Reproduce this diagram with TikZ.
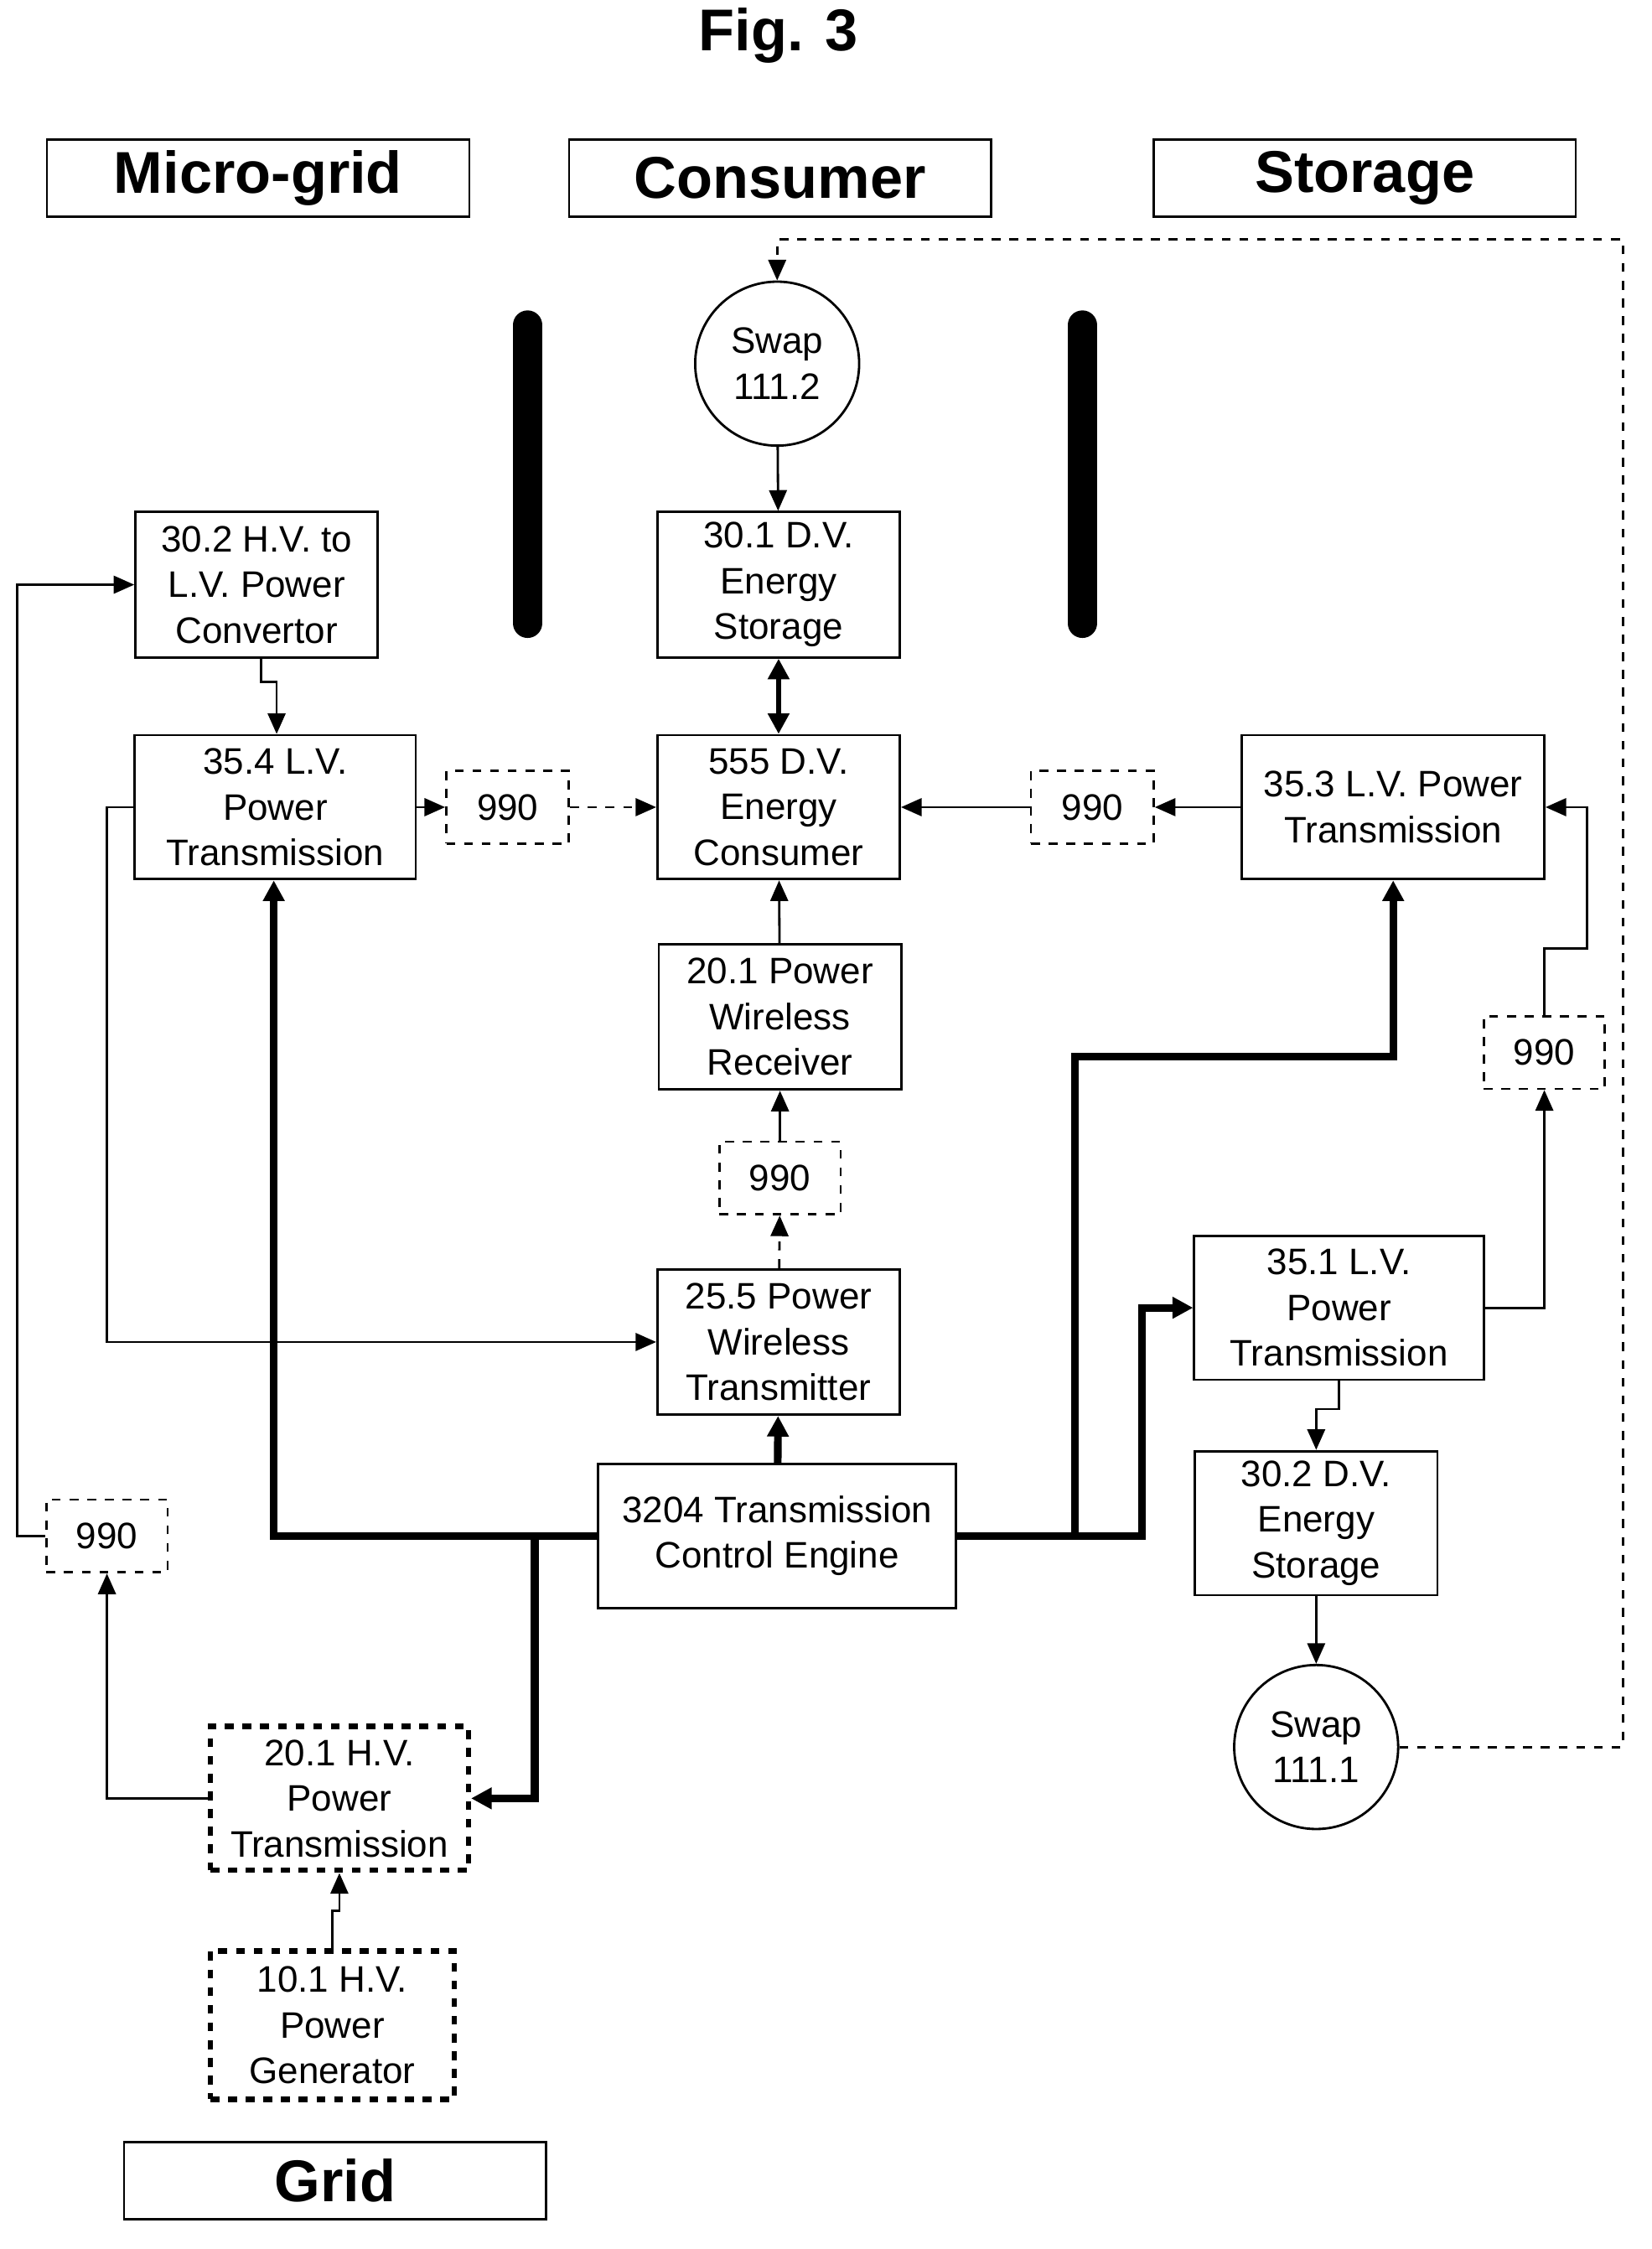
\documentclass[tikz,border=0pt]{standalone}
\usepackage{fontspec}
\setmainfont{Liberation Sans}
\usetikzlibrary{arrows.meta}
\begin{document}
\begin{tikzpicture}[x=0.017cm, y=-0.017cm,
    box/.style={draw, line width=0.8pt, align=center, inner sep=0pt, font=\fontsize{12.5}{15.5}\selectfont},
    tag/.style={box, dashed},
    hdr/.style={draw, line width=0.7pt, minimum width=296*0.017cm, minimum height=54*0.017cm, font=\fontsize{20}{24}\selectfont\bfseries},
    swap/.style={draw, circle, line width=0.8pt, minimum size=115*0.017cm, align=center, inner sep=0pt, font=\fontsize{12.5}{15.5}\selectfont},
    arr/.style={-{Triangle[length=7pt,width=6pt]}, line width=0.8pt},
    fat/.style={-{Triangle[length=7pt,width=7pt]}, line width=2.6pt}]
    \useasboundingbox (0,0) rectangle (1158,1577);

    % Headings
    \node[font=\fontsize{20}{24}\selectfont\bfseries] (fig) at (546,25) {Fig. 3};
    \node[hdr] (hmicro) at (181,125) {Micro-grid};
    \node[hdr] (hcons) at (547,125) {Consumer};
    \node[hdr] (hstor) at (957,125) {Storage};
    \node[hdr] (hgrid) at (235,1529) {Grid};

    % Separators
    \draw[line width=10pt, line cap=round] (370,228) -- (370,437);
    \draw[line width=10pt, line cap=round] (759,228) -- (759,437);

    % Boxes
    \node[swap] (swaptop) at (545,255) {Swap\\111.2};
    \node[box, minimum width=170*0.017cm, minimum height=102*0.017cm] (hvconv) at (180,410) {30.2 H.V. to\\L.V. Power\\Convertor};
    \node[box, minimum width=170*0.017cm, minimum height=102*0.017cm] (dvtop) at (546,410) {30.1 D.V.\\Energy\\Storage};
    \node[box, minimum width=197*0.017cm, minimum height=101*0.017cm] (lv354) at (193,566) {35.4 L.V.\\Power\\Transmission};
    \node[tag, minimum width=86*0.017cm, minimum height=51*0.017cm] (tagA) at (356,566) {990};
    \node[box, minimum width=170*0.017cm, minimum height=101*0.017cm] (cons) at (546,566) {555 D.V.\\Energy\\Consumer};
    \node[tag, minimum width=86*0.017cm, minimum height=51*0.017cm] (tagB) at (766,566) {990};
    \node[box, minimum width=212*0.017cm, minimum height=101*0.017cm] (lv353) at (977,566) {35.3 L.V. Power\\Transmission};
    \node[box, minimum width=170*0.017cm, minimum height=102*0.017cm] (recv) at (547,713) {20.1 Power\\Wireless\\Receiver};
    \node[tag, minimum width=85*0.017cm, minimum height=51*0.017cm] (tagC) at (547,826) {990};
    \node[tag, minimum width=85*0.017cm, minimum height=51*0.017cm] (tagD) at (1083,738) {990};
    \node[box, minimum width=170*0.017cm, minimum height=102*0.017cm] (xmit) at (546,941) {25.5 Power\\Wireless\\Transmitter};
    \node[box, minimum width=203*0.017cm, minimum height=101*0.017cm] (lv351) at (939,917) {35.1 L.V.\\Power\\Transmission};
    \node[box, minimum width=251*0.017cm, minimum height=101*0.017cm] (engine) at (545,1077) {3204 Transmission\\Control Engine};
    \node[box, minimum width=170*0.017cm, minimum height=101*0.017cm] (dvbot) at (923,1068) {30.2 D.V.\\Energy\\Storage};
    \node[tag, minimum width=85*0.017cm, minimum height=51*0.017cm] (tagE) at (75,1077) {990};
    \node[swap] (swapbot) at (923,1225) {Swap\\111.1};
    \node[box, dashed, line width=1.8pt, minimum width=181*0.017cm, minimum height=101*0.017cm] (hvtx) at (238,1261) {20.1 H.V.\\Power\\Transmission};
    \node[box, dashed, line width=1.8pt, minimum width=171*0.017cm, minimum height=104*0.017cm] (gen) at (233,1420) {10.1 H.V.\\Power\\Generator};

    % Connectors
    \draw[arr] (swaptop) -- (dvtop);
    \draw[{Triangle[length=7pt,width=7pt]}-{Triangle[length=7pt,width=7pt]}, line width=1.8pt] (dvtop) -- (cons);
    \draw[arr] (183,461) |- (194,478) -- (lv354.north -| 194,0);
    \draw[arr] (lv354) -- (tagA);
    \draw[arr, dashed] (tagA) -- (cons);
    \draw[arr] (lv353) -- (tagB);
    \draw[arr] (tagB) -- (cons);
    \draw[arr] (recv) -- (cons);
    \draw[arr] (tagC) -- (recv);
    \draw[arr, dashed] (xmit) -- (tagC);
    \draw[fat] (engine) -- (xmit);
    \draw[arr] (lv354.west) -- (75,566) |- (xmit.west);
    \draw[fat] (engine.west) -| (lv354.south -| 192,0);
    \draw[fat] (375,1077) |- (hvtx.east);
    \draw[fat] (engine.east) -- (754,1077) |- (977,741) -- (lv353.south);
    \draw[fat] (754,1077) -- (801,1077) |- (lv351.west);
    \draw[arr] (lv351.east) -| (tagD.south);
    \draw[arr] (tagD.north) -- (1083,665) -| (1113,566) -- (lv353.east);
    \draw[arr] (939,968) |- (923,988) -- (dvbot.north);
    \draw[arr] (dvbot) -- (swapbot);
    \draw[arr, dashed] (swapbot.east) -| (1138,168) -| (swaptop.north);
    \draw[arr] (hvtx.west) -| (tagE.south);
    \draw[arr] (tagE.west) -- (12,1077) |- (hvconv.west);
    \draw[arr] (gen.north) |- (238,1340) -- (hvtx.south);
\end{tikzpicture}
\end{document}
